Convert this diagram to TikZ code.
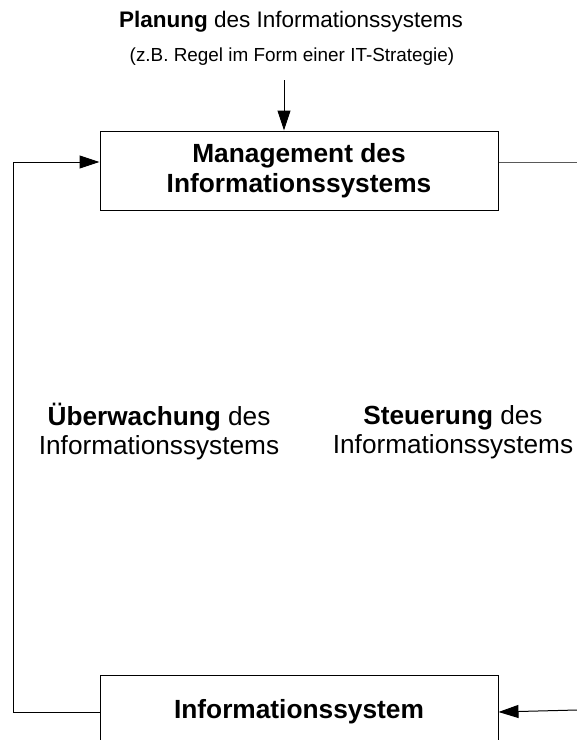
\documentclass[tikz,border=0pt]{standalone}
\usepackage{fontspec}
\setmainfont{Liberation Sans}
\usetikzlibrary{arrows.meta}
\begin{document}
\begin{tikzpicture}[x=1pt,y=-1pt,
  box/.style={draw=black,line width=1pt,fill=white,minimum width=398pt,inner sep=0pt,align=center,font=\fontsize{26.3}{30}\selectfont\bfseries},
  lbl/.style={align=center,inner sep=0pt,font=\fontsize{26.2}{29}\selectfont},
  conn/.style={line width=1pt,draw=black},
  arr/.style={conn,-{Triangle[length=20pt,width=13pt]}}]
\clip (0,0) rectangle (577,740);
\fill[white] (0,0) rectangle (577,740);
\node[lbl,font=\fontsize{22.5}{27}\selectfont] (title) at (291,22) {\textbf{Planung} des Informationssystems};
\node[lbl,font=\fontsize{18.9}{22}\selectfont] (sub) at (292,57) {(z.B. Regel im Form einer IT-Strategie)};
\node[box,minimum height=79pt] (mgmt) at (299,170.5) {Management des\\Informationssystems};
\node[box,minimum height=74pt] (is) at (299,712) {Informationssystem};
\node[lbl] (ueb) at (159,432) {\textbf{Überwachung} des\\Informationssystems};
\node[lbl] (steu) at (453,432) {\textbf{Steuerung} des\\Informationssystems};
\coordinate (topin) at (284,80);
\coordinate (lc1) at (13,712);
\coordinate (lc2) at (13,162);
\coordinate (rout) at (577,162);
\coordinate (rin) at (577,710);
\draw[arr] (topin) -- (topin |- mgmt.north);
\draw[arr] (is.west |- lc1) -- (lc1) -- (lc2) -- (lc2 -| mgmt.west);
\draw[conn,draw=black!65] (mgmt.east |- rout) -- (rout);
\draw[arr] (rin) -- (is.east);
\end{tikzpicture}
\end{document}
